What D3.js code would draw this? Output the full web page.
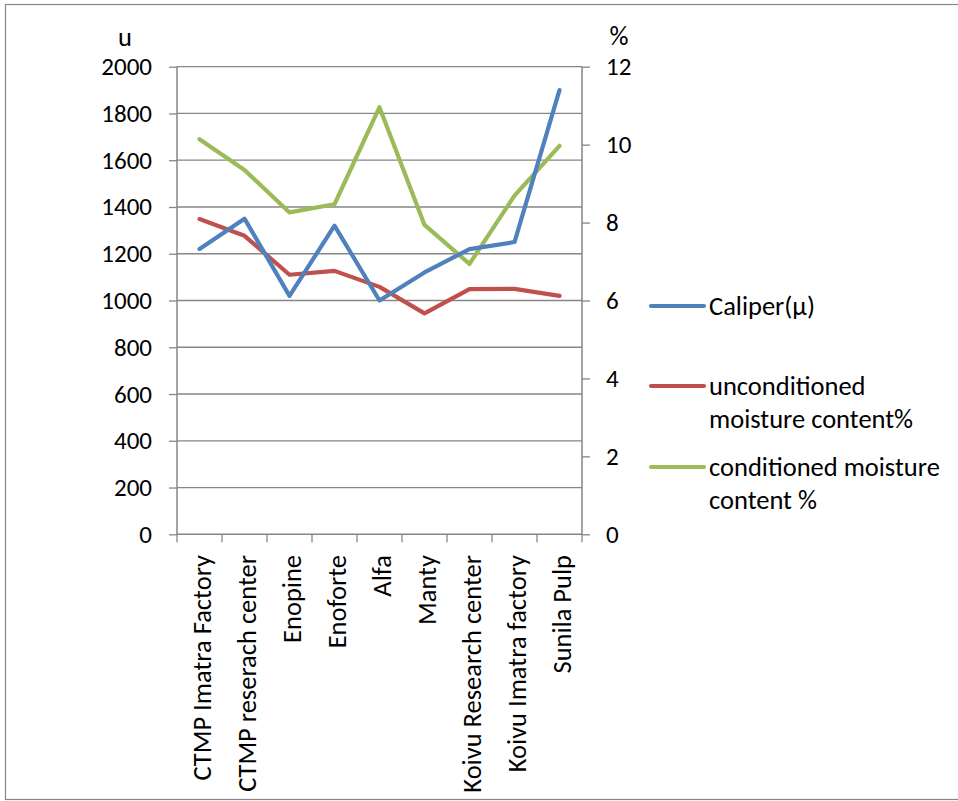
<!DOCTYPE html>
<html>
<head>
<meta charset="utf-8">
<script src="https://cdn.jsdelivr.net/npm/d3@7"></script>
<style>
  html, body { margin: 0; padding: 0; background: #fff; }
  svg { display: block; }
  text { font-family: Calibri, Carlito, Lato, "Open Sans", sans-serif; fill: #000; }
</style>
</head>
<body>
<svg id="chart" width="958" height="801"></svg>
<script>
// Pulp samples
const categories = [
  "CTMP Imatra Factory", "CTMP reserach center", "Enopine", "Enoforte", "Alfa",
  "Manty", "Koivu Research center", "Koivu Imatra factory", "Sunila Pulp"
];
// Caliper (µ) – left axis
const caliper = [1220, 1350, 1020, 1320, 1000, 1120, 1220, 1250, 1900];
// Moisture content (%) – right axis
const unconditioned = [8.09, 7.66, 6.66, 6.76, 6.35, 5.67, 6.29, 6.30, 6.12];
const conditioned = [10.14, 9.35, 8.26, 8.47, 10.96, 7.94, 6.94, 8.69, 9.97];

const leftTicks = [0, 200, 400, 600, 800, 1000, 1200, 1400, 1600, 1800, 2000];
const rightTicks = [0, 2, 4, 6, 8, 10, 12];

const seriesNames = ["Caliper(\u03bc)", "unconditioned moisture content%", "conditioned moisture content %"];
const legendLines = [["Caliper(\u03bc)"], ["unconditioned", "moisture content%"], ["conditioned moisture", "content %"]];
const seriesColors = ["#4F81BD", "#C0504D", "#9BBB59"];

const svg = d3.select("#chart");
const axisGray = "#868686";
const fontSize = 26.5;
const tickFontSize = 25;

// outer chart frame
svg.append("rect")
  .attr("x", 5.5).attr("y", 4.5)
  .attr("width", 960).attr("height", 795)
  .attr("fill", "none").attr("stroke", axisGray).attr("stroke-width", 1.2);

const plot = { left: 177, right: 582, top: 66.7, bottom: 534.3 };

const x = d3.scaleBand().domain(categories).range([plot.left, plot.right]).padding(0);
const yL = d3.scaleLinear().domain([0, 2000]).range([plot.bottom, plot.top]);
const yR = d3.scaleLinear().domain([0, 12]).range([plot.bottom, plot.top]);
const cx = c => x(c) + x.bandwidth() / 2;

// horizontal gridlines
svg.append("g")
  .selectAll("line")
  .data(leftTicks.filter(t => t > 0))
  .join("line")
  .attr("x1", plot.left).attr("x2", plot.right)
  .attr("y1", d => yL(d)).attr("y2", d => yL(d))
  .attr("stroke", axisGray).attr("stroke-width", 1.3);

function styleAxis(g) {
  g.select(".domain").remove();
  g.selectAll(".tick line").attr("stroke", axisGray).attr("stroke-width", 1.3);
  g.selectAll(".tick text").attr("font-size", tickFontSize).attr("fill", "#000")
    .style("font-family", "Calibri, Carlito, Lato, 'Open Sans', sans-serif");
}

// left axis
const gL = svg.append("g")
  .attr("transform", `translate(${plot.left},0)`)
  .call(d3.axisLeft(yL).tickValues(leftTicks).tickSize(8).tickPadding(17).tickFormat(d3.format("d")));
styleAxis(gL);

// right axis
const gR = svg.append("g")
  .attr("transform", `translate(${plot.right},0)`)
  .call(d3.axisRight(yR).tickValues(rightTicks).tickSize(8).tickPadding(16).tickFormat(d3.format("d")));
styleAxis(gR);

// axis lines
svg.append("line").attr("x1", plot.left).attr("x2", plot.left).attr("y1", plot.top).attr("y2", plot.bottom)
  .attr("stroke", axisGray).attr("stroke-width", 1.5);
svg.append("line").attr("x1", plot.right).attr("x2", plot.right).attr("y1", plot.top).attr("y2", plot.bottom)
  .attr("stroke", axisGray).attr("stroke-width", 1.5);
svg.append("line").attr("x1", plot.left).attr("x2", plot.right).attr("y1", plot.bottom).attr("y2", plot.bottom)
  .attr("stroke", axisGray).attr("stroke-width", 1.5);

// category tick marks at band boundaries
const boundaries = categories.map(c => x(c)).concat([x(categories[categories.length - 1]) + x.bandwidth()]);
svg.append("g").selectAll("line").data(boundaries).join("line")
  .attr("x1", d => d).attr("x2", d => d)
  .attr("y1", plot.bottom).attr("y2", plot.bottom + 8)
  .attr("stroke", axisGray).attr("stroke-width", 1.3);

// rotated category labels
svg.append("g").selectAll("text").data(categories).join("text")
  .attr("transform", d => `translate(${cx(d) + 2},555) rotate(-90)`)
  .attr("text-anchor", "end")
  .attr("dy", "0.35em")
  .attr("font-size", fontSize)
  .text(d => d);

// axis unit labels
svg.append("text").attr("x", 125).attr("y", 37).attr("dy", "0.35em")
  .attr("text-anchor", "middle").attr("font-size", fontSize).text("u");
svg.append("text").attr("x", 619).attr("y", 36).attr("dy", "0.35em")
  .attr("text-anchor", "middle").attr("font-size", fontSize).text("%");

// series lines
const series = [
  { values: caliper, scale: yL },
  { values: unconditioned, scale: yR },
  { values: conditioned, scale: yR }
];
const lineGen = scale => d3.line().x((d, i) => cx(categories[i])).y(d => scale(d));

// draw order: moisture lines below caliper where they overlap
[1, 2, 0].forEach(k => {
  const s = series[k];
  svg.append("path")
    .datum(s.values)
    .attr("d", lineGen(s.scale))
    .attr("fill", "none")
    .attr("stroke", seriesColors[k])
    .attr("stroke-width", 4.2)
    .attr("stroke-linejoin", "round")
    .attr("stroke-linecap", "round");
});

// legend
const legendY = [306, 386, 467];
const legend = svg.append("g");
legendLines.forEach((lines, i) => {
  const g = legend.append("g").attr("transform", `translate(0,${legendY[i]})`);
  g.append("line").attr("x1", 651).attr("x2", 704).attr("y1", 0).attr("y2", 0)
    .attr("stroke", seriesColors[i]).attr("stroke-width", 4.2).attr("stroke-linecap", "round");
  const t = g.append("text").attr("x", 709).attr("y", 0).attr("font-size", fontSize)
    .attr("aria-label", seriesNames[i]);
  lines.forEach((ln, j) => {
    t.append("tspan").attr("x", 709).attr("y", j * 33).attr("dy", "0.35em").text(ln);
  });
});
</script>
</body>
</html>
